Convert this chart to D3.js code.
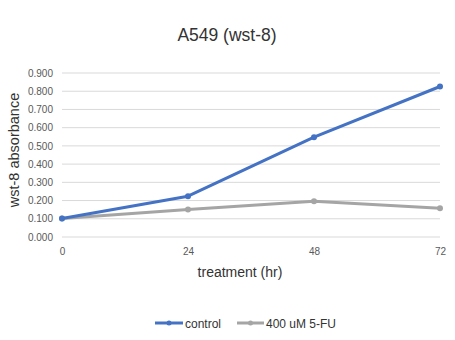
<!DOCTYPE html>
<html>
<head>
<meta charset="utf-8">
<script src="https://cdn.jsdelivr.net/npm/d3@7"></script>
<style>
  body { margin: 0; background: #fff; }
  text { font-family: "Liberation Sans", Arial, sans-serif; }
</style>
</head>
<body>
<div class="chart"></div>
<script>
const hours = [0, 24, 48, 72]
const control = [0.102, 0.224, 0.548, 0.826]
const fu = [0.102, 0.151, 0.196, 0.158]
const yTicks = [0, 0.1, 0.2, 0.3, 0.4, 0.5, 0.6, 0.7, 0.8, 0.9]
const seriesNames = ['control', '400 uM 5-FU']
const colors = ['#4472C4', '#A5A5A5']

const W = 455, H = 340
const margin = {top: 73, right: 15, bottom: 103, left: 62}
const width = W - margin.left - margin.right
const height = H - margin.top - margin.bottom

const svg = d3.select('.chart').append('svg')
    .attr('width', W)
    .attr('height', H)

const g = svg.append('g')
    .attr('transform', `translate(${margin.left},${margin.top})`)

const x = d3.scaleLinear().domain([0, 72]).range([0, 378])
const y = d3.scaleLinear().domain([0, 0.9]).range([height, 0])

// gridlines
g.selectAll('.grid')
    .data(yTicks)
    .enter()
    .append('line')
    .attr('x1', 0)
    .attr('x2', 378)
    .attr('y1', d => y(d))
    .attr('y2', d => y(d))
    .attr('stroke', '#d9d9d9')
    .attr('stroke-width', 1)

const yAxis = d3.axisLeft(y).tickValues(yTicks).tickFormat(d3.format('.3f')).tickSize(0).tickPadding(9)
g.append('g').call(yAxis)
    .call(a => a.select('.domain').remove())
    .selectAll('text')
    .attr('fill', '#595959')
    .style('font-size', '10px')

const xAxis = d3.axisBottom(x).tickValues(hours).tickSize(0).tickPadding(11)
g.append('g')
    .attr('transform', `translate(0,${height})`)
    .call(xAxis)
    .call(a => a.select('.domain').remove())
    .selectAll('text')
    .attr('fill', '#595959')
    .style('font-size', '10px')

const line = d3.line().x((d, i) => x(hours[i])).y(d => y(d))

// gray series first so the blue one sits on top
;[fu, control].forEach((vals, k) => {
    const c = colors[1 - k]
    g.append('path')
        .datum(vals)
        .attr('d', line)
        .attr('fill', 'none')
        .attr('stroke', c)
        .attr('stroke-width', 3)
        .attr('stroke-linejoin', 'round')
    g.selectAll('.pt' + k)
        .data(vals)
        .enter()
        .append('circle')
        .attr('cx', (d, i) => x(hours[i]))
        .attr('cy', d => y(d))
        .attr('r', 3)
        .attr('fill', c)
})

svg.append('text')
    .attr('x', 227)
    .attr('y', 41)
    .attr('text-anchor', 'middle')
    .attr('fill', '#333')
    .style('font-size', '17.5px')
    .text('A549 (wst-8)')

svg.append('text')
    .attr('transform', 'translate(19,150) rotate(-90)')
    .attr('text-anchor', 'middle')
    .attr('fill', '#333')
    .style('font-size', '14.5px')
    .text('wst-8 absorbance')

svg.append('text')
    .attr('x', 240)
    .attr('y', 277)
    .attr('text-anchor', 'middle')
    .attr('fill', '#333')
    .style('font-size', '14px')
    .text('treatment (hr)')

// legend
const legend = svg.append('g').attr('transform', 'translate(155,323)')
const lx = [0, 82]
const lw = [28, 27]
seriesNames.forEach((name, i) => {
    const lg = legend.append('g').attr('transform', `translate(${lx[i]},0)`)
    lg.append('line')
        .attr('x1', 0).attr('x2', lw[i])
        .attr('stroke', colors[i])
        .attr('stroke-width', 3)
    lg.append('circle')
        .attr('cx', lw[i] / 2).attr('r', 2.5)
        .attr('fill', colors[i])
    lg.append('text')
        .attr('x', lw[i] + 2)
        .attr('y', 4.5)
        .attr('fill', '#333')
        .style('font-size', '12px')
        .text(name)
})
</script>
</body>
</html>
